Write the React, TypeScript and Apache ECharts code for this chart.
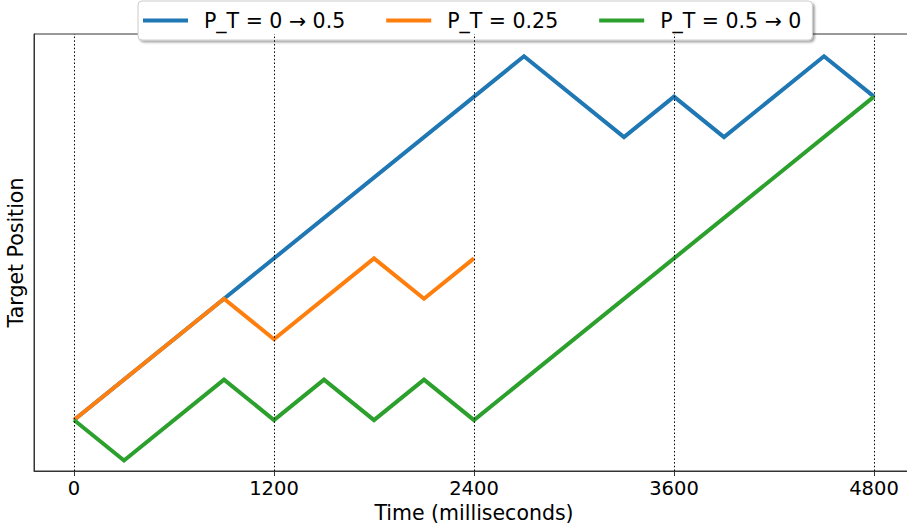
import React, { useEffect, useRef } from "react";
import * as echarts from "echarts";

const blueT = [0, 900, 2700, 3300, 3600, 3900, 4500, 4800];
const blueY = [0, 3, 9, 7, 8, 7, 9, 8];
const orangeT = [0, 900, 1200, 1800, 2100, 2400];
const orangeY = [0, 3, 2, 4, 3, 4];
const greenT = [0, 300, 900, 1200, 1500, 1800, 2100, 2400, 4800];
const greenY = [0, -1, 1, 0, 1, 0, 1, 0, 8];
const xTicks = [0, 1200, 2400, 3600, 4800];
const seriesNames = ["P_T = 0 → 0.5", "P_T = 0.25", "P_T = 0.5 → 0"];
const colors = ["#1f77b4", "#ff7f0e", "#2ca02c"];

const FONT = "DejaVu Sans";

export default function App() {
  const ref = useRef<HTMLDivElement>(null);
  useEffect(() => {
    if (!ref.current) return;
    const chart = echarts.init(ref.current, null, { renderer: "svg" });
    const pairs = (t: number[], y: number[]) => t.map((v, i) => [v, y[i]]);
    const datasets = [pairs(blueT, blueY), pairs(orangeT, orangeY), pairs(greenT, greenY)];
    chart.setOption({
      animation: false,
      grid: {
        left: 34,
        right: 7,
        top: 34,
        bottom: 55,
        show: true,
        borderColor: "#333",
        borderWidth: 1,
        containLabel: false,
        outerBoundsMode: "none",
      },
      legend: {
        data: seriesNames,
        left: 138,
        top: 1,
        padding: [9, 11, 9, 5],
        itemWidth: 45,
        itemHeight: 4,
        itemGap: 41,
        icon: "rect",
        backgroundColor: "#fff",
        borderColor: "#ccc",
        borderWidth: 1,
        borderRadius: 4,
        shadowColor: "rgba(0,0,0,0.35)",
        shadowOffsetX: 2,
        shadowOffsetY: 2,
        shadowBlur: 2,
        textStyle: {
          fontFamily: FONT,
          fontSize: 20.5,
          color: "#000",
          lineHeight: 20,
          padding: [0, 0, 0, 11],
        },
      },
      xAxis: {
        type: "value",
        min: -240,
        max: 5040,
        name: "Time (milliseconds)",
        nameLocation: "middle",
        nameGap: 30,
        nameTextStyle: { fontFamily: FONT, fontSize: 20.5, color: "#000", verticalAlign: "top" },
        axisLine: { show: true, onZero: false, lineStyle: { color: "#333", width: 1 } },
        axisTick: { show: true, customValues: xTicks, length: 5, lineStyle: { color: "#333" } },
        axisLabel: {
          customValues: xTicks,
          margin: 7,
          fontFamily: FONT,
          fontSize: 19.5,
          color: "#000",
          formatter: (v: number) => String(v),
        },
        splitLine: { show: false },
      },
      yAxis: {
        type: "value",
        min: -1.26,
        max: 9.55,
        name: "Target Position",
        nameLocation: "middle",
        nameGap: 8,
        nameTextStyle: { fontFamily: FONT, fontSize: 20.5, color: "#000" },
        axisLine: { show: true, onZero: false, lineStyle: { color: "#333", width: 1 } },
        axisTick: { show: false },
        axisLabel: { show: false },
        splitLine: { show: false },
      },
      series: [
        {
          name: "grid",
          type: "line",
          data: [],
          z: 1,
          silent: true,
          markLine: {
            silent: true,
            symbol: "none",
            label: { show: false },
            lineStyle: { color: "#000", width: 1, type: [1.5, 2.2] },
            data: xTicks.map((v) => ({ xAxis: v })),
          },
        },
        ...seriesNames.map((name, i) => ({
          name,
          type: "line",
          data: datasets[i],
          z: 2 + i,
          showSymbol: false,
          symbol: "none",
          lineStyle: { color: colors[i], width: 4, join: "miter" },
          itemStyle: { color: colors[i] },
        })),
      ],
    });
    return () => chart.dispose();
  }, []);
  return (
    <div
      ref={ref}
      style={{ position: "fixed", left: 0, top: 0, width: 921, height: 526, background: "#fff" }}
    />
  );
}
